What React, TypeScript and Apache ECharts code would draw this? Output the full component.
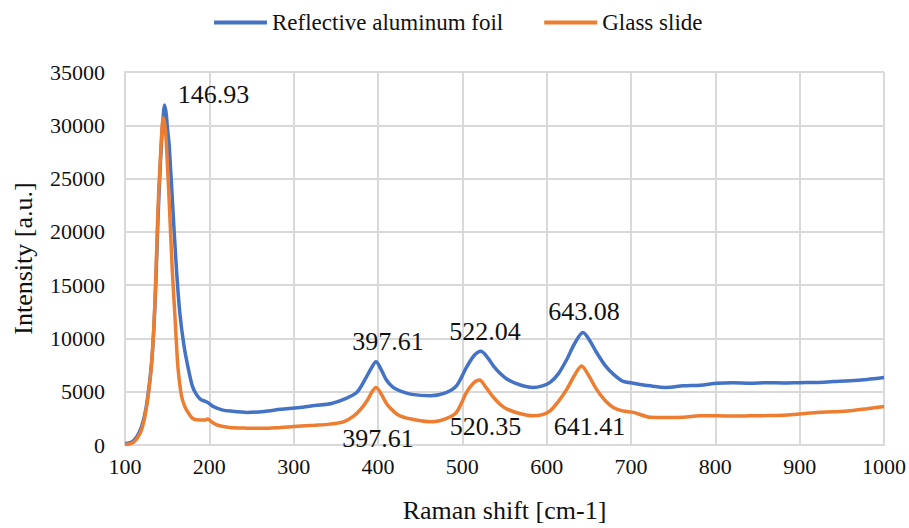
import React, { useEffect, useRef } from "react";
import * as echarts from "echarts";

const xTicks = [100, 200, 300, 400, 500, 600, 700, 800, 900, 1000];
const yTicks = [0, 5000, 10000, 15000, 20000, 25000, 30000, 35000];

const seriesNames = ["Reflective aluminum foil", "Glass slide"];

const foilX = [100, 105, 110, 115, 120, 125, 130, 133, 136, 139, 142, 145, 147, 149, 150, 152.5, 157, 161, 165, 170, 175, 180, 185, 190, 195, 199, 205, 215, 225, 245, 265, 285, 305, 325, 345, 360, 375, 385, 392, 397.61, 403, 410, 418, 426, 440, 462, 480, 493, 505, 514, 522.04, 530, 537, 545, 553, 568, 584, 595, 604, 614, 624, 633, 643.08, 651, 659, 669, 679, 690, 703, 723, 742, 762, 782, 802, 821, 841, 861, 881, 900, 920, 940, 960, 980, 1000];
const foilY = [150, 200, 400, 900, 1800, 3500, 6500, 9300, 14000, 21000, 26500, 30500, 31900, 31000, 30000, 28000, 21800, 16500, 12400, 9300, 7200, 5500, 4700, 4250, 4100, 3950, 3600, 3300, 3180, 3060, 3150, 3350, 3500, 3700, 3900, 4300, 4950, 6200, 7200, 7800, 7200, 6100, 5400, 5080, 4750, 4620, 4900, 5550, 7300, 8400, 8800, 8200, 7400, 6700, 6180, 5650, 5400, 5550, 5870, 6700, 8050, 9500, 10550, 9800, 8700, 7500, 6650, 6000, 5800, 5550, 5400, 5550, 5610, 5800, 5850, 5800, 5850, 5820, 5850, 5870, 5950, 6020, 6150, 6330];

const glassX = [100, 105, 110, 115, 120, 125, 130, 133, 136, 139, 142, 145.5, 148, 150, 153, 156, 159, 161, 163, 167, 171, 176, 181, 189, 195, 198, 203, 210, 224, 244, 264, 284, 304, 324, 343, 360, 371, 380, 387, 393, 397.61, 403, 410, 418, 426, 445, 465, 480, 493, 505, 513, 520.35, 528, 537, 545, 553, 568, 584, 595, 604, 614, 624, 632, 641.41, 650, 659, 669, 679, 690, 703, 723, 742, 762, 782, 802, 821, 841, 861, 881, 900, 920, 940, 960, 980, 1000];
const glassY = [50, 100, 250, 700, 1500, 3300, 6300, 9300, 14500, 21800, 27000, 30700, 29500, 26800, 21800, 16500, 12400, 9500, 7100, 4600, 3600, 2900, 2450, 2350, 2350, 2430, 2150, 1850, 1650, 1580, 1560, 1650, 1750, 1850, 1960, 2200, 2700, 3400, 4150, 5000, 5400, 4900, 3900, 3200, 2740, 2350, 2180, 2450, 3060, 4930, 5800, 6100, 5400, 4460, 3800, 3370, 2950, 2740, 2850, 3210, 4100, 5240, 6400, 7420, 6500, 5240, 4200, 3520, 3200, 3060, 2600, 2580, 2600, 2740, 2740, 2720, 2740, 2760, 2800, 2900, 3060, 3120, 3210, 3400, 3620];

// peak labels (x position of the peak in the series)
const foilPeaks = [146.93, 397.61, 522.04, 643.08];
const glassPeaks = [397.61, 520.35, 641.41];

const FONT = "Liberation Serif";
const TEXT = "#111111";

export default function App() {
  const ref = useRef<HTMLDivElement>(null);

  useEffect(() => {
    if (!ref.current) return;
    const chart = echarts.init(ref.current, undefined, { renderer: "svg" });

    const foilData = foilX.map((x, i) => [x, foilY[i]]);
    const glassData = glassX.map((x, i) => [x, glassY[i]]);

    const nearestY = (xs: number[], ys: number[], x: number) => {
      let best = 0;
      for (let i = 0; i < xs.length; i++) {
        if (Math.abs(xs[i] - x) < Math.abs(xs[best] - x)) best = i;
      }
      return ys[best];
    };

    const foilOffsets = [[49, -11], [12, -20], [4, -20], [1, -21]];
    const glassOffsets = [[2, 51], [6, 47], [8, 61]];

    const labelStyle = {
      show: true,
      position: "inside",
      fontFamily: FONT,
      fontSize: 26,
      color: TEXT,
    };

    chart.setOption({
      animation: false,
      legend: {
        top: 6,
        left: 209,
        icon: "rect",
        itemWidth: 53,
        itemHeight: 4,
        itemGap: 41,
        textStyle: { fontFamily: FONT, fontSize: 23, color: TEXT },
        data: seriesNames,
      },
      grid: { left: 125, right: 25, top: 72, bottom: 82 },
      xAxis: {
        type: "value",
        min: xTicks[0],
        max: xTicks[xTicks.length - 1],
        interval: 100,
        name: "Raman shift [cm-1]",
        nameLocation: "middle",
        nameGap: 52,
        nameTextStyle: { fontFamily: FONT, fontSize: 26, color: TEXT },
        axisLine: { show: true, lineStyle: { color: "#d9d9d9", width: 2 } },
        axisTick: { show: false },
        axisLabel: {
          fontFamily: FONT,
          fontSize: 22,
          color: TEXT,
          margin: 10,
          formatter: (v: number) => String(v),
        },
        splitLine: { show: true, lineStyle: { color: "#d9d9d9", width: 2 } },
      },
      yAxis: {
        type: "value",
        min: yTicks[0],
        max: yTicks[yTicks.length - 1],
        interval: 5000,
        name: "Intensity [a.u.]",
        nameLocation: "middle",
        nameGap: 89,
        nameTextStyle: { fontFamily: FONT, fontSize: 26, color: TEXT },
        axisLine: { show: true, lineStyle: { color: "#d9d9d9", width: 2 } },
        axisTick: { show: false },
        axisLabel: {
          fontFamily: FONT,
          fontSize: 22,
          color: TEXT,
          margin: 20,
          formatter: (v: number) => String(v),
        },
        splitLine: { show: true, lineStyle: { color: "#d9d9d9", width: 2 } },
      },
      series: [
        {
          name: seriesNames[0],
          type: "line",
          data: foilData,
          showSymbol: false,
          symbol: "none",
          smooth: 0.3,
          lineStyle: { color: "#4472C4", width: 3.5 },
          itemStyle: { color: "#4472C4" },
          z: 3,
          markPoint: {
            symbol: "circle",
            symbolSize: 1,
            itemStyle: { color: "transparent" },
            data: foilPeaks.map((p, i) => ({
              coord: [p, nearestY(foilX, foilY, p)],
              label: { ...labelStyle, formatter: p.toFixed(2), offset: foilOffsets[i] },
            })),
          },
        },
        {
          name: seriesNames[1],
          type: "line",
          data: glassData,
          showSymbol: false,
          symbol: "none",
          smooth: 0.3,
          lineStyle: { color: "#ED7D31", width: 3.5 },
          itemStyle: { color: "#ED7D31" },
          z: 4,
          markPoint: {
            symbol: "circle",
            symbolSize: 1,
            itemStyle: { color: "transparent" },
            data: glassPeaks.map((p, i) => ({
              coord: [p, nearestY(glassX, glassY, p)],
              label: { ...labelStyle, formatter: p.toFixed(2), offset: glassOffsets[i] },
            })),
          },
        },
      ],
    });

    return () => chart.dispose();
  }, []);

  return (
    <>
      <style>{`.raman-chart svg text { font-family: "Liberation Serif", "Times New Roman", serif !important; }`}</style>
      <div
        ref={ref}
        className="raman-chart"
        style={{ position: "absolute", left: 0, top: 0, width: 909, height: 528, background: "#fff" }}
      />
    </>
  );
}
